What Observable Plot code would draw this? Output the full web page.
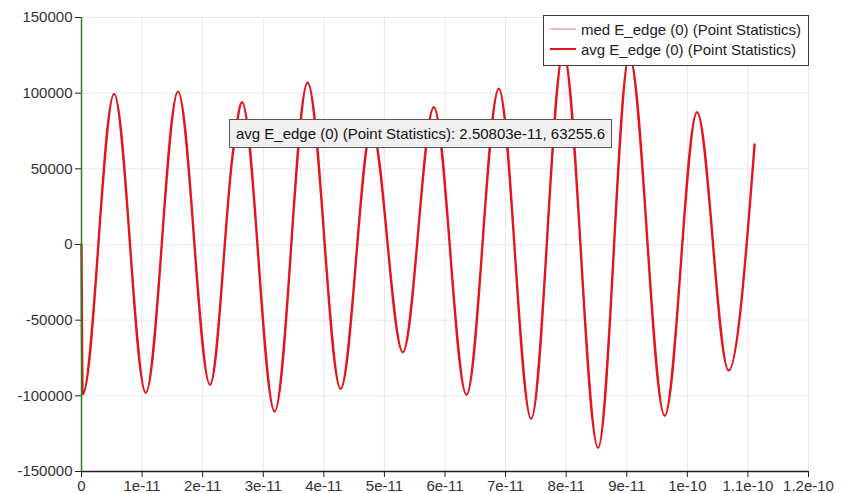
<!DOCTYPE html>
<html>
<head>
<meta charset="utf-8">
<script src="https://cdn.jsdelivr.net/npm/d3@7"></script>
<script src="https://cdn.jsdelivr.net/npm/@observablehq/plot@0.6"></script>
<style>
  body { margin: 0; background: #fff; }
  #wrap { position: relative; width: 849px; height: 493px; font-family: "Liberation Sans", Arial, sans-serif; }
  .legend { position: absolute; left: 543px; top: 15px; width: 266px; height: 51px; box-sizing: border-box;
            border: 1px solid #3a3a3a; background: #fff; font-size: 15px; color: #222; }
  .legend .row { position: absolute; left: 6px; height: 18px; display: flex; align-items: center; white-space: nowrap; }
  .legend .swatch { width: 26px; height: 2px; margin-right: 5px; }
  .tip { position: absolute; box-sizing: border-box; height: 29px; padding: 0 6px; display: flex; align-items: center;
         background: #f0f0f0; border: 1px solid #555; font-size: 15px; color: #111; white-space: nowrap; }
</style>
</head>
<body>
<div id="wrap"></div>
<script>
// Time samples (s) at the turning points of the averaged edge field, plus start/end
const times = [0, 0.02e-11, 0.538e-11, 1.061e-11, 1.593e-11, 2.121e-11, 2.50803e-11, 2.649e-11, 3.188e-11,
  3.732e-11, 4.277e-11, 4.79e-11, 5.304e-11, 5.816e-11, 6.355e-11, 6.888e-11, 7.422e-11, 7.955e-11,
  8.527e-11, 9.043e-11, 9.626e-11, 10.16e-11, 10.681e-11, 11.11e-11];
const avgEdge = [0, -99000, 99500, -98000, 101000, -92700, 63255.6, 94000, -110400,
  107000, -95400, 77000, -71200, 90700, -99400, 102900, -115200, 127000,
  -134400, 125000, -113200, 87400, -83300, 66100];

// Hovered sample shown in the tooltip
const hoverTime = 2.50803e-11;
const hoverValue = 63255.6;
const hoverLabel = "avg E_edge (0) (Point Statistics): 2.50803e-11, 63255.6";

// Series names for the legend
const seriesNames = ["med E_edge (0) (Point Statistics)", "avg E_edge (0) (Point Statistics)"];
const seriesColors = ["#f4b8c2", "#e3161e"];

// Axis ticks and their labels
const xTicks = [0, 1e-11, 2e-11, 3e-11, 4e-11, 5e-11, 6e-11, 7e-11, 8e-11, 9e-11, 1e-10, 1.1e-10, 1.2e-10];
const xTickLabels = ["0", "1e-11", "2e-11", "3e-11", "4e-11", "5e-11", "6e-11", "7e-11", "8e-11", "9e-11", "1e-10", "1.1e-10", "1.2e-10"];
const yTicks = [-150000, -100000, -50000, 0, 50000, 100000, 150000];
const yTickLabels = ["-150000", "-100000", "-50000", "0", "50000", "100000", "150000"];

const series = times.map((t, i) => ({t, v: avgEdge[i]}));

const chart = Plot.plot({
  width: 849,
  height: 493,
  marginLeft: 81,
  marginRight: 41,
  marginTop: 17,
  marginBottom: 22,
  style: {fontFamily: "Liberation Sans, Arial, sans-serif", fontSize: "15px", color: "#333", background: "#fff", overflow: "visible"},
  x: {domain: [0, 1.2e-10]},
  y: {domain: [-150000, 150000]},
  marks: [
    Plot.gridX(xTicks, {stroke: "#e8e8e8", strokeOpacity: 1}),
    Plot.gridY(yTicks, {stroke: "#e8e8e8", strokeOpacity: 1}),
    Plot.axisX(xTicks, {tickSize: 6, tickPadding: 3, stroke: "#222", fill: "#333",
      tickFormat: (d, i) => xTickLabels[i], label: null}),
    Plot.axisY(yTicks, {tickSize: 6, tickPadding: 3, stroke: "#222", fill: "#333",
      tickFormat: (d, i) => yTickLabels[i], label: null}),
    Plot.ruleY([-150000], {stroke: "#222", strokeWidth: 1.5}),
    Plot.line(series, {x: "t", y: "v", stroke: seriesColors[1], strokeWidth: 2.4, curve: "monotone-x"}),
    Plot.ruleX([0], {stroke: "#2f7d22", strokeWidth: 1.5})
  ]
});

const wrap = document.getElementById("wrap");
wrap.appendChild(chart);

// Legend box in the upper right corner
const legend = document.createElement("div");
legend.className = "legend";
seriesNames.forEach((name, i) => {
  const row = document.createElement("div");
  row.className = "row";
  row.style.top = (4 + i * 20) + "px";
  const sw = document.createElement("span");
  sw.className = "swatch";
  sw.style.background = seriesColors[i];
  const tx = document.createElement("span");
  tx.textContent = name;
  row.appendChild(sw);
  row.appendChild(tx);
  legend.appendChild(row);
});
wrap.appendChild(legend);

// Tooltip anchored at the hovered sample (its bottom-left corner)
const sx = chart.scale("x"), sy = chart.scale("y");
const tip = document.createElement("div");
tip.className = "tip";
tip.textContent = hoverLabel;
tip.style.left = (sx.apply(hoverTime) - 4) + "px";
tip.style.top = (sy.apply(hoverValue) - 29) + "px";
wrap.appendChild(tip);
</script>
</body>
</html>
